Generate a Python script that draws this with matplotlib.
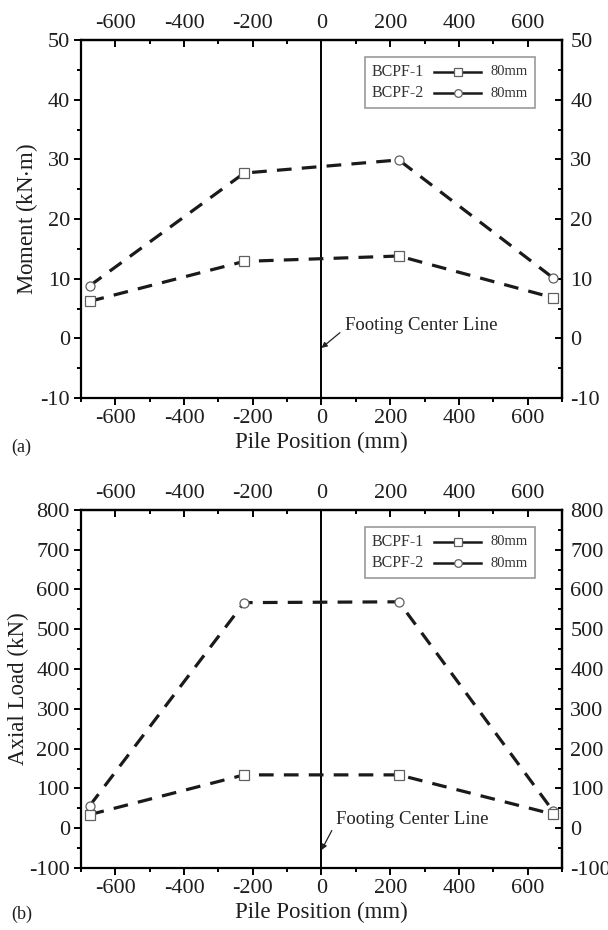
import matplotlib
matplotlib.use("Agg")
import matplotlib.pyplot as plt
from matplotlib.ticker import MultipleLocator, FixedLocator
from matplotlib.lines import Line2D
from matplotlib.offsetbox import AnchoredOffsetbox, HPacker, VPacker, TextArea, DrawingArea

plt.rcParams['font.family'] = ['Liberation Serif', 'DejaVu Serif']
plt.rcParams['mathtext.fontset'] = 'stix'
plt.rcParams['axes.unicode_minus'] = False

# ---------------- data ----------------
pile_pos = [-675, -225, 225, 675]

# (a) Moment (kN·m)
moment_bcpf1 = [6.2, 12.9, 13.8, 6.8]
moment_bcpf2 = [8.8, 27.7, 29.9, 10.1]
moment_bcpf2_markers = ['o', 's', 'o', 'o']
moment_ticks = [-10, 0, 10, 20, 30, 40, 50]

# (b) Axial load (kN)
axial_bcpf1 = [34, 134, 134, 35]
axial_bcpf2 = [56, 567, 569, 42]
axial_bcpf2_markers = ['o', 'o', 'o', 'o']
axial_ticks = [-100, 0, 100, 200, 300, 400, 500, 600, 700, 800]

series_names = ["BCPF-1", "BCPF-2"]
series_size = ["80mm", "80mm"]

x_ticks = [-600, -400, -200, 0, 200, 400, 600]

LINE_C = '#1a1a1a'
MK_C = '#606060'
TXT_C = '#1e1e1e'
TS = 16

fig = plt.figure(figsize=(6.08, 9.30), dpi=100)
ax_a = fig.add_axes([0.1332, 0.572, 0.7911, 0.385])
ax_b = fig.add_axes([0.1332, 0.0667, 0.7911, 0.385])


def style_axes(ax, ylim, yticks, yminor, ylabel):
    ax.set_xlim(-700, 700)
    ax.set_ylim(*ylim)
    ax.xaxis.set_major_locator(FixedLocator(x_ticks))
    ax.xaxis.set_minor_locator(MultipleLocator(100))
    ax.yaxis.set_major_locator(FixedLocator(yticks))
    ax.yaxis.set_minor_locator(MultipleLocator(yminor))
    for s in ax.spines.values():
        s.set_linewidth(1.6)
    ax.tick_params(which='both', direction='out', labelsize=TS, width=1.4, pad=3,
                   labelcolor=TXT_C)
    ax.tick_params(which='major', length=5)
    ax.tick_params(which='minor', length=3)
    ax.set_xlabel("Pile Position (mm)", fontsize=16.5, labelpad=3, color=TXT_C)
    ax.set_ylabel(ylabel, fontsize=16.5, labelpad=0, color=TXT_C)

    top = ax.secondary_xaxis('top')
    top.xaxis.set_major_locator(FixedLocator(x_ticks))
    top.xaxis.set_minor_locator(MultipleLocator(100))
    top.tick_params(which='both', direction='in', labelsize=TS, width=1.4, pad=5,
                    labelcolor=TXT_C)
    top.tick_params(which='major', length=5)
    top.tick_params(which='minor', length=3)
    top.spines['top'].set_linewidth(1.6)

    right = ax.secondary_yaxis('right')
    right.yaxis.set_major_locator(FixedLocator(yticks))
    right.yaxis.set_minor_locator(MultipleLocator(yminor))
    right.tick_params(which='both', direction='in', labelsize=TS, width=1.4, pad=6,
                      labelcolor=TXT_C)
    right.tick_params(which='major', length=5)
    right.tick_params(which='minor', length=3)
    right.spines['right'].set_linewidth(1.6)

    # footing center line
    ax.axvline(0, color='black', lw=1.4, zorder=1)


def plot_series(ax, y, markers):
    ax.plot(pile_pos, y, color=LINE_C, lw=2.3, dashes=(4.6, 3.2), zorder=2)
    for xv, yv, m in zip(pile_pos, y, markers):
        ax.plot([xv], [yv], linestyle='none', marker=m, ms=6.5, mfc='white',
                mec=MK_C, mew=0.9, zorder=3, clip_on=False)


def add_legend(ax):
    rows = []
    for name, mk, sz in zip(series_names, ['s', 'o'], series_size):
        da = DrawingArea(34, 10, 0, 0)
        ln = Line2D([0, 17, 34], [5, 5, 5], color=LINE_C, lw=1.8,
                    marker=mk, markevery=[1], mfc='white', mec=MK_C, ms=5.5, mew=0.9)
        da.add_artist(ln)
        t1 = TextArea(name, textprops=dict(fontsize=11.5, color='#333333'))
        t2 = TextArea(sz, textprops=dict(fontsize=10.5, color='#333333'))
        rows.append(HPacker(children=[t1, da, t2], sep=7, align='center', pad=0))
    box = VPacker(children=rows, sep=4, align='left', pad=0)
    anch = AnchoredOffsetbox(loc='upper right', child=box, pad=0.5, borderpad=0,
                             frameon=True, bbox_to_anchor=(0.944, 0.9525),
                             bbox_transform=ax.transAxes)
    anch.patch.set_edgecolor('#9a9a9a')
    anch.patch.set_linewidth(1.2)
    anch.patch.set_boxstyle('square', pad=0)
    ax.add_artist(anch)


# ---------------- panel (a) ----------------
style_axes(ax_a, (-10, 50), moment_ticks, 5, "Moment (kN$\\cdot$m)")
plot_series(ax_a, moment_bcpf2, moment_bcpf2_markers)
plot_series(ax_a, moment_bcpf1, ['s'] * 4)
add_legend(ax_a)
ax_a.annotate("Footing Center Line", xy=(0, -1.6), xytext=(68, 2.2),
              fontsize=13.5, color='#222222', va='center', ha='left',
              arrowprops=dict(arrowstyle='-|>', color='#222222', lw=0.9,
                              shrinkA=2, shrinkB=0, mutation_scale=8,
                              relpos=(0, 0.3)))

# ---------------- panel (b) ----------------
style_axes(ax_b, (-100, 800), axial_ticks, 50, "Axial Load (kN)")
plot_series(ax_b, axial_bcpf2, axial_bcpf2_markers)
plot_series(ax_b, axial_bcpf1, ['s'] * 4)
add_legend(ax_b)
ax_b.annotate("Footing Center Line", xy=(0, -55), xytext=(42, 22),
              fontsize=13.5, color='#222222', va='center', ha='left',
              arrowprops=dict(arrowstyle='-|>', color='#222222', lw=0.9,
                              shrinkA=2, shrinkB=0, mutation_scale=8,
                              relpos=(0, 0.3)))

fig.text(0.018, 1 - 447 / 930, "(a)", fontsize=13, va='center', ha='left', color=TXT_C)
fig.text(0.018, 1 - 914 / 930, "(b)", fontsize=13, va='center', ha='left', color=TXT_C)

fig.savefig("out.png", dpi=100, facecolor='white')
